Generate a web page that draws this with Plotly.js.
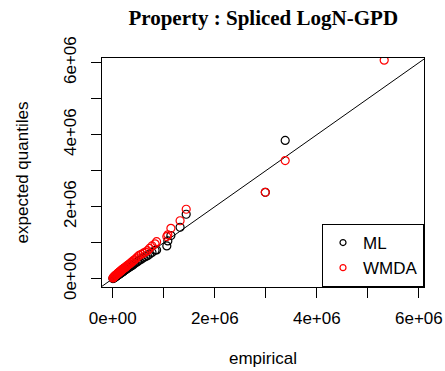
<!DOCTYPE html>
<html><head><meta charset="utf-8">
<script src="https://cdn.plot.ly/plotly-3.0.1.min.js"></script>
<style>html,body{margin:0;padding:0;background:#fff}#chart{width:445px;height:371px}</style>
</head><body><div id="chart"></div>
<script>
const empirical = [0.005e6,0.01e6,0.02e6,0.03e6,0.04e6,0.05e6,0.06e6,0.07e6,0.08e6,0.09e6,0.10e6,0.11e6,0.12e6,0.13e6,0.14e6,0.15e6,0.16e6,0.17e6,0.18e6,0.19e6,0.20e6,0.21e6,0.22e6,0.24e6,0.25e6,0.26e6,0.28e6,0.30e6,0.32e6,0.34e6,0.36e6,0.38e6,0.40e6,0.43e6,0.46e6,0.49e6,0.52e6,0.56e6,0.60e6,0.64e6,0.68e6,0.72e6,0.77e6,0.83e6,0.86e6,1.06e6,1.08e6,1.14e6,1.32e6,1.44e6,2.99e6,3.38e6,5.32e6];
const mlQuantiles = [0.005e6,0.01e6,0.02e6,0.03e6,0.04e6,0.05e6,0.06e6,0.07e6,0.08e6,0.09e6,0.10e6,0.11e6,0.12e6,0.13e6,0.14e6,0.15e6,0.16e6,0.17e6,0.18e6,0.19e6,0.20e6,0.21e6,0.22e6,0.24e6,0.25e6,0.26e6,0.28e6,0.30e6,0.32e6,0.33e6,0.35e6,0.37e6,0.39e6,0.42e6,0.45e6,0.48e6,0.51e6,0.54e6,0.58e6,0.61e6,0.64e6,0.68e6,0.73e6,0.79e6,0.80e6,0.91e6,1.05e6,1.20e6,1.43e6,1.79e6,2.40e6,3.84e6,6.45e6];
const wmdaQuantiles = [0.02e6,0.03e6,0.05e6,0.06e6,0.07e6,0.09e6,0.10e6,0.11e6,0.12e6,0.14e6,0.15e6,0.16e6,0.17e6,0.18e6,0.20e6,0.21e6,0.22e6,0.23e6,0.24e6,0.26e6,0.27e6,0.28e6,0.29e6,0.31e6,0.32e6,0.33e6,0.36e6,0.38e6,0.40e6,0.42e6,0.45e6,0.47e6,0.50e6,0.53e6,0.57e6,0.61e6,0.65e6,0.68e6,0.71e6,0.74e6,0.78e6,0.84e6,0.91e6,0.97e6,1.03e6,1.17e6,1.22e6,1.40e6,1.61e6,1.93e6,2.40e6,3.28e6,6.07e6];
const refLine = [-1e6, 8e6];
const tickVals = [0, 2e6, 4e6, 6e6];
const tickText = ['0e+00', '2e+06', '4e+06', '6e+06'];
const minorVals = [0, 1e6, 2e6, 3e6, 4e6, 5e6, 6e6];
const seriesNames = ['ML', 'WMDA'];
const seriesColors = ['#000000', '#ff0000'];

const font = {family: 'Liberation Sans, Arial, sans-serif', size: 17, color: '#000'};

const traces = [
  {x: refLine, y: refLine, mode: 'lines', line: {color: '#000', width: 1}, showlegend: false, hoverinfo: 'skip'},
  {x: empirical, y: mlQuantiles, mode: 'markers', name: seriesNames[0], showlegend: false,
   marker: {symbol: 'circle-open', size: 8, color: seriesColors[0], line: {width: 1.2, color: seriesColors[0]}}},
  {x: empirical, y: wmdaQuantiles, mode: 'markers', name: seriesNames[1], showlegend: false,
   marker: {symbol: 'circle-open', size: 8, color: seriesColors[1], line: {width: 1.2, color: seriesColors[1]}}},
  {x: [null], y: [null], mode: 'markers', name: seriesNames[0],
   marker: {symbol: 'circle-open', size: 6, color: seriesColors[0], line: {width: 1.2, color: seriesColors[0]}}},
  {x: [null], y: [null], mode: 'markers', name: seriesNames[1],
   marker: {symbol: 'circle-open', size: 6, color: seriesColors[1], line: {width: 1.2, color: seriesColors[1]}}}
];

const axisCommon = {
  showgrid: false, zeroline: false, showline: true, mirror: true, linecolor: '#000', linewidth: 1,
  ticks: 'outside', ticklen: 10, tickcolor: '#000', tickwidth: 1,
  tickmode: 'array', tickfont: font,
  minor: {tickmode: 'array', tickvals: minorVals, ticks: 'outside', ticklen: 10, tickcolor: '#000', tickwidth: 1}
};

const layout = {
  width: 445, height: 371,
  margin: {l: 102, r: 21, t: 58, b: 84},
  paper_bgcolor: '#fff', plot_bgcolor: '#fff',
  title: {text: 'Property : Spliced LogN-GPD', font: {family: 'Liberation Serif, Times New Roman, serif', size: 21, color: '#000', weight: 'bold'},
          x: 0.5915, xanchor: 'center', y: 0.952, yanchor: 'middle'},
  xaxis: Object.assign({}, axisCommon, {range: [-0.21e6, 6.10e6], tickvals: tickVals, ticktext: tickText, ticklabelstandoff: 6,
          title: {text: 'empirical', font: font, standoff: 24}}),
  yaxis: Object.assign({}, axisCommon, {range: [-0.23e6, 6.13e6], tickvals: tickVals, ticktext: tickText, tickangle: -90, ticklabelstandoff: 8,
          title: {text: 'expected quantiles', font: font, standoff: 28}}),
  legend: {x: 1, xanchor: 'right', y: 0, yanchor: 'bottom', bgcolor: '#fff', bordercolor: '#000', borderwidth: 1,
           font: font, itemwidth: 30, tracegroupgap: 0},
  showlegend: true
};

Plotly.newPlot('chart', traces, layout, {staticPlot: true, displayModeBar: false});
</script></body></html>
